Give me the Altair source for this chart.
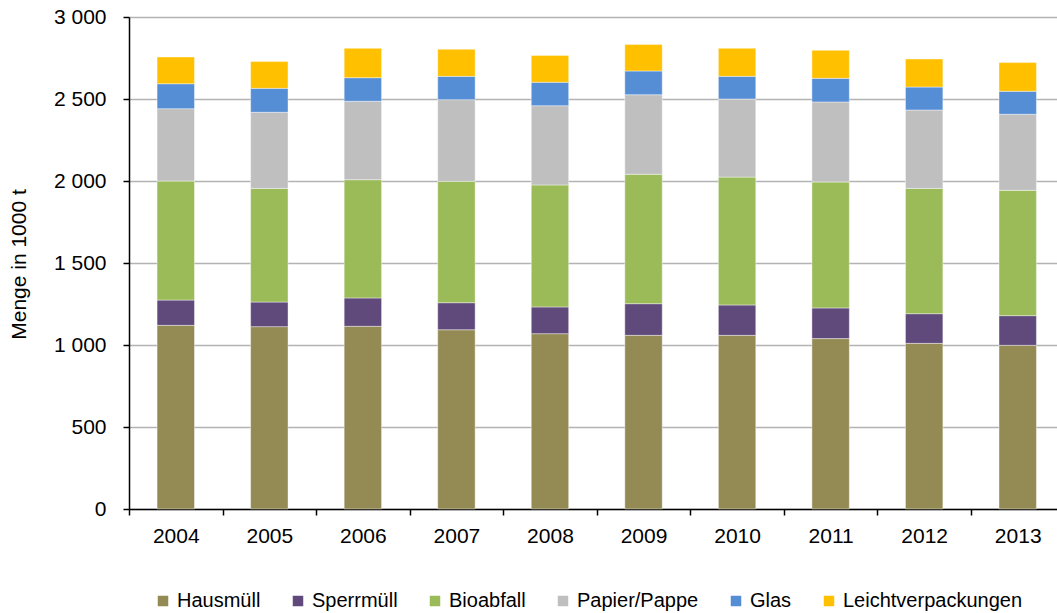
import altair as alt
import pandas as pd

# Jahre und Abfallarten
years = ["2004", "2005", "2006", "2007", "2008", "2009", "2010", "2011", "2012", "2013"]
categories = ["Hausmüll", "Sperrmüll", "Bioabfall", "Papier/Pappe", "Glas", "Leichtverpackungen"]
colors = ["#948A54", "#604A7B", "#9BBB59", "#BFBFBF", "#558ED5", "#FFC000"]

# Mengen in 1000 t
hausmuell = [1120, 1112, 1114, 1093, 1069, 1059, 1059, 1039, 1010, 998]
sperrmuell = [154, 150, 173, 165, 163, 193, 185, 187, 181, 181]
bioabfall = [726, 693, 721, 740, 744, 789, 780, 768, 764, 764]
papier_pappe = [441, 464, 478, 498, 483, 485, 476, 488, 478, 464]
glas = [152, 146, 144, 142, 143, 145, 138, 144, 140, 140]
leichtverpackungen = [163, 163, 179, 165, 164, 162, 171, 171, 171, 175]

series = [hausmuell, sperrmuell, bioabfall, papier_pappe, glas, leichtverpackungen]

rows = []
for rank, (cat, values) in enumerate(zip(categories, series)):
    for year, v in zip(years, values):
        rows.append({"Jahr": year, "Kategorie": cat, "Menge": v, "Rang": rank})
df = pd.DataFrame(rows)

FONT = "Liberation Sans"
X_RANGE = 935.5          # the band range runs a little past the visible plot edge
STEP = X_RANGE / 10.0

chart = (
    alt.Chart(df)
    .mark_bar(stroke="#FFFFFF", strokeWidth=0.6, strokeOpacity=0.7)
    .encode(
        x=alt.X(
            "Jahr:N",
            sort=years,
            scale=alt.Scale(range=[0, X_RANGE], paddingInner=0.6, paddingOuter=0.3),
            axis=alt.Axis(
                title=None,
                labelAngle=0,
                labelFontSize=21,
                labelColor="#000000",
                labelPadding=10,
                # ticks sit between the year groups, labels stay centred
                tickOffset=-STEP / 2,
                labelOffset=STEP / 2,
                tickSize=6,
                tickColor="#000000",
                tickWidth=1.5,
                domainColor="#000000",
                domainWidth=1.5,
                grid=False,
            ),
        ),
        y=alt.Y(
            "Menge:Q",
            stack="zero",
            scale=alt.Scale(domain=[0, 3000], nice=False),
            axis=alt.Axis(
                title="Menge in 1000 t",
                titleFontSize=21,
                titleFontWeight="normal",
                titleColor="#000000",
                titleAngle=270,
                titleAlign="center",
                titleBaseline="middle",
                titleX=-110,
                titleY=247,
                values=[0, 500, 1000, 1500, 2000, 2500, 3000],
                labelExpr="replace(format(datum.value, ','), ',', ' ')",
                labelFontSize=21,
                labelColor="#000000",
                labelPadding=17,
                tickSize=6,
                tickColor="#000000",
                tickWidth=1.5,
                domainColor="#000000",
                domainWidth=1.5,
                gridColor="#B3B3B3",
                gridWidth=1.3,
            ),
        ),
        color=alt.Color(
            "Kategorie:N",
            scale=alt.Scale(domain=categories, range=colors),
            legend=alt.Legend(
                title=None,
                orient="none",
                legendX=24,
                legendY=574,
                direction="horizontal",
                symbolType="square",
                symbolSize=110,
                symbolStrokeWidth=0,
                labelFontSize=20,
                labelColor="#000000",
                labelOffset=4,
                labelLimit=400,
                columnPadding=27,
                padding=0,
            ),
        ),
        order=alt.Order("Rang:Q", sort="ascending"),
    )
    .properties(
        width=928,
        height=492,
        padding={"left": 129, "top": 17, "right": 0, "bottom": 104},
        autosize=alt.AutoSizeParams(type="none"),
    )
    .configure(font=FONT)
    .configure_view(strokeWidth=0)
)

chart.save("out.html", embed_options={"renderer": "svg", "actions": False})
